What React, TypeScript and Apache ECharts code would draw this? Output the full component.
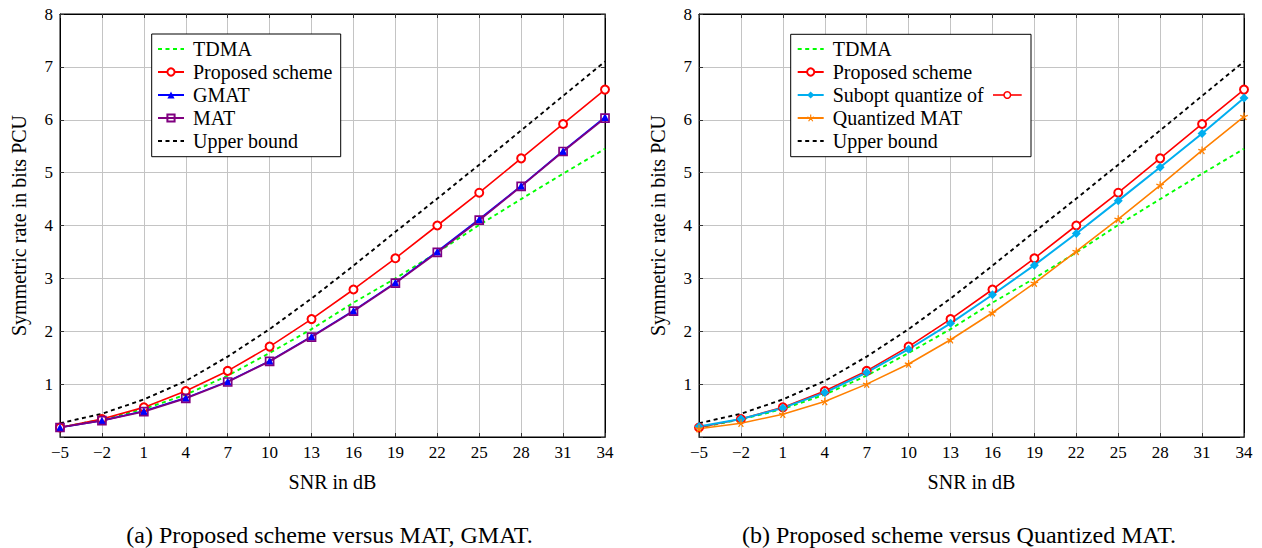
import React, { useEffect, useRef } from "react";
import * as echarts from "echarts";

const snr = [-5, -2, 1, 4, 7, 10, 13, 16, 19, 22, 25, 28, 31, 34];
const tdma = [0.18, 0.33, 0.53, 0.8, 1.16, 1.59, 2.04, 2.54, 3.0, 3.49, 4.01, 4.5, 4.98, 5.45];
const proposed = [0.18, 0.34, 0.56, 0.87, 1.25, 1.71, 2.23, 2.79, 3.38, 4.0, 4.62, 5.27, 5.92, 6.57];
const gmat = [0.18, 0.31, 0.49, 0.74, 1.05, 1.44, 1.9, 2.39, 2.92, 3.51, 4.12, 4.75, 5.41, 6.05];
const mat = [0.18, 0.31, 0.48, 0.73, 1.04, 1.43, 1.89, 2.38, 2.91, 3.49, 4.1, 4.74, 5.4, 6.03];
const subopt = [0.2, 0.34, 0.55, 0.84, 1.22, 1.66, 2.15, 2.69, 3.25, 3.85, 4.47, 5.1, 5.74, 6.41];
const quantMat = [0.155, 0.26, 0.43, 0.67, 1.0, 1.38, 1.84, 2.35, 2.91, 3.51, 4.12, 4.76, 5.42, 6.06];
const upper = [0.26, 0.44, 0.71, 1.06, 1.52, 2.04, 2.62, 3.24, 3.88, 4.51, 5.15, 5.8, 6.45, 7.1];

const legendLeft = ["TDMA", "Proposed scheme", "GMAT", "MAT", "Upper bound"];
const legendRight = ["TDMA", "Proposed scheme", "Subopt quantize of", "Quantized MAT", "Upper bound"];
const dashedNames = ["TDMA", "Upper bound"];
const captionA = "(a) Proposed scheme versus MAT, GMAT.";
const captionB = "(b) Proposed scheme versus Quantized MAT.";
const xTitle = "SNR in dB";
const yTitle = "Symmetric rate in bits PCU";

const FONT = "'Liberation Serif', 'Times New Roman', serif";

function starPath(): string {
  // five-armed asterisk marker
  let d = "";
  const hw = 0.16;
  for (let k = 0; k < 5; k++) {
    const a = ((-90 + 72 * k) * Math.PI) / 180;
    const c = Math.cos(a), s = Math.sin(a);
    const px = -s * hw, py = c * hw;
    const pts = [
      [px, py],
      [c + px, s + py],
      [c - px, s - py],
      [-px, -py],
    ];
    d += "M" + pts.map((p) => p[0].toFixed(3) + " " + p[1].toFixed(3)).join("L") + "Z";
  }
  return "path://" + d;
}

const pairs = (arr: number[]) => snr.map((x, i) => [x, arr[i]]);

function xAxisFor(g: number) {
  return {
    type: "value",
    gridIndex: g,
    min: -5,
    max: 34,
    interval: 3,
    position: "bottom",
    name: xTitle,
    nameLocation: "middle",
    nameGap: 35,
    nameTextStyle: { fontFamily: FONT, fontSize: 20, color: "#000" },
    axisLine: { show: true, onZero: false, lineStyle: { color: "#000", width: 1 } },
    axisTick: { show: true, inside: true, length: 4, lineStyle: { color: "#333" } },
    axisLabel: {
      fontFamily: FONT,
      fontSize: 17,
      color: "#000",
      margin: 7,
      showMinLabel: true,
      showMaxLabel: true,
      hideOverlap: false,
      formatter: (v: number) => (v < 0 ? "\u2212" + Math.abs(v) : String(v)),
    },
    splitLine: { show: true, lineStyle: { color: "#c4c4c4", width: 1 } },
  };
}

function xMirror(g: number) {
  return {
    type: "value",
    gridIndex: g,
    min: -5,
    max: 34,
    interval: 3,
    position: "top",
    axisLine: { show: true, onZero: false, lineStyle: { color: "#000", width: 1 } },
    axisTick: { show: true, inside: true, length: 4, lineStyle: { color: "#333" } },
    axisLabel: { show: false },
    splitLine: { show: false },
  };
}

function yAxisFor(g: number) {
  return {
    type: "value",
    gridIndex: g,
    min: 0,
    max: 8,
    interval: 1,
    position: "left",
    name: yTitle,
    nameLocation: "middle",
    nameGap: 31,
    nameTextStyle: { fontFamily: FONT, fontSize: 20, color: "#000" },
    axisLine: { show: true, onZero: false, lineStyle: { color: "#000", width: 1 } },
    axisTick: { show: true, inside: true, length: 4, lineStyle: { color: "#333" } },
    axisLabel: {
      fontFamily: FONT,
      fontSize: 17,
      color: "#000",
      margin: 7,
      formatter: (v: number) => (v === 0 ? "" : String(v)),
    },
    splitLine: { show: true, lineStyle: { color: "#c4c4c4", width: 1 } },
  };
}

function yMirror(g: number) {
  return {
    type: "value",
    gridIndex: g,
    min: 0,
    max: 8,
    interval: 1,
    position: "right",
    axisLine: { show: true, onZero: false, lineStyle: { color: "#000", width: 1 } },
    axisTick: { show: true, inside: true, length: 4, lineStyle: { color: "#333" } },
    axisLabel: { show: false },
    splitLine: { show: false },
  };
}

const dashed = [4, 3.5];

function tdmaSeries(g: number) {
  return {
    name: "TDMA",
    type: "line",
    xAxisIndex: g,
    yAxisIndex: g,
    data: pairs(tdma),
    symbol: "none",
    lineStyle: { color: "#00ff00", width: 1.9, type: dashed },
    itemStyle: { color: "#00ff00" },
  };
}
function proposedSeries(g: number) {
  return {
    name: "Proposed scheme",
    type: "line",
    xAxisIndex: g,
    yAxisIndex: g,
    data: pairs(proposed),
    symbol: "emptyCircle",
    symbolSize: 8,
    lineStyle: { color: "#ff0000", width: 1.6 },
    itemStyle: { color: "#ff0000", borderWidth: 1.5 },
  };
}
function upperSeries(g: number) {
  return {
    name: "Upper bound",
    type: "line",
    xAxisIndex: g,
    yAxisIndex: g,
    data: pairs(upper),
    symbol: "none",
    lineStyle: { color: "#000000", width: 1.9, type: dashed },
    itemStyle: { color: "#000000" },
  };
}

const legendItems = (names: string[]) =>
  names.map((n) => (dashedNames.includes(n) ? { name: n, itemStyle: { opacity: 0 } } : { name: n }));

const legendCommon = {
  orient: "vertical",
  itemWidth: 26,
  itemHeight: 9,
  itemGap: 0,
  padding: 0,
  selectedMode: false,
  textStyle: { fontFamily: FONT, fontSize: 20, lineHeight: 23, color: "#000", padding: [0, 0, 0, 4] },
};

export default function App() {
  const ref = useRef<HTMLDivElement>(null);
  useEffect(() => {
    if (!ref.current) return;
    const chart = echarts.init(ref.current, undefined, { renderer: "svg" });
    const option: any = {
      animation: false,
      backgroundColor: "#ffffff",
      textStyle: { fontFamily: FONT },
      grid: [
        { left: 60, top: 14, width: 545, height: 423, show: true, borderColor: "#000", borderWidth: 1, backgroundColor: "transparent" },
        { left: 699, top: 14, width: 545, height: 423, show: true, borderColor: "#000", borderWidth: 1, backgroundColor: "transparent" },
      ],
      xAxis: [xAxisFor(0), xAxisFor(1), xMirror(0), xMirror(1)],
      yAxis: [yAxisFor(0), yAxisFor(1), yMirror(0), yMirror(1)],
      legend: [
        { ...legendCommon, left: 157, top: 37.5, data: legendItems(legendLeft) },
        { ...legendCommon, left: 796.7, top: 37.5, data: legendItems(legendRight) },
      ],
      series: [
        tdmaSeries(0),
        proposedSeries(0),
        {
          name: "GMAT",
          type: "line",
          xAxisIndex: 0,
          yAxisIndex: 0,
          data: pairs(gmat),
          symbol: "triangle",
          symbolSize: 8,
          lineStyle: { color: "#0000ff", width: 1.6 },
          itemStyle: { color: "#0000ff" },
        },
        {
          name: "MAT",
          type: "line",
          xAxisIndex: 0,
          yAxisIndex: 0,
          data: pairs(mat),
          symbol: "rect",
          symbolSize: 8,
          lineStyle: { color: "#800080", width: 1.8 },
          itemStyle: { color: "rgba(0,0,0,0)", borderColor: "#800080", borderWidth: 1.7 },
        },
        upperSeries(0),
        tdmaSeries(1),
        proposedSeries(1),
        {
          name: "Subopt quantize of",
          type: "line",
          xAxisIndex: 1,
          yAxisIndex: 1,
          data: pairs(subopt),
          symbol: "diamond",
          symbolSize: 9,
          lineStyle: { color: "#00aeef", width: 2 },
          itemStyle: { color: "#00aeef" },
        },
        {
          name: "Quantized MAT",
          type: "line",
          xAxisIndex: 1,
          yAxisIndex: 1,
          data: pairs(quantMat),
          symbol: starPath(),
          symbolSize: 8,
          lineStyle: { color: "#ff8000", width: 1.6 },
          itemStyle: { color: "#ff8000" },
        },
        upperSeries(1),
      ],
      graphic: [
        {
          type: "rect",
          z: 3,
          shape: { x: 151.7, y: 34, width: 189, height: 122.7 },
          style: { fill: "#fff", stroke: "#000", lineWidth: 1 },
        },
        {
          type: "rect",
          z: 3,
          shape: { x: 790.7, y: 34.3, width: 240.3, height: 122.4 },
          style: { fill: "#fff", stroke: "#000", lineWidth: 1 },
        },
        {
          type: "line",
          z: 5,
          shape: { x1: 993, y1: 95, x2: 1021.7, y2: 95 },
          style: { stroke: "#ff0000", lineWidth: 1.6 },
        },
        {
          type: "circle",
          z: 6,
          shape: { cx: 1007.3, cy: 95, r: 3.3 },
          style: { fill: "#fff", stroke: "#ff0000", lineWidth: 1.5 },
        },
        {
          type: "text",
          z: 5,
          x: 329.5,
          y: 535,
          style: { text: captionA, fontFamily: FONT, fontSize: 24, fill: "#000", align: "center", verticalAlign: "middle" },
        },
        {
          type: "text",
          z: 5,
          x: 959,
          y: 535,
          style: { text: captionB, fontFamily: FONT, fontSize: 24, fill: "#000", align: "center", verticalAlign: "middle" },
        },
      ],
    };
    chart.setOption(option);
    return () => chart.dispose();
  }, []);
  return (
    <div
      ref={ref}
      style={{ position: "fixed", left: 0, top: 0, width: 1262, height: 548, background: "#fff" }}
    />
  );
}
